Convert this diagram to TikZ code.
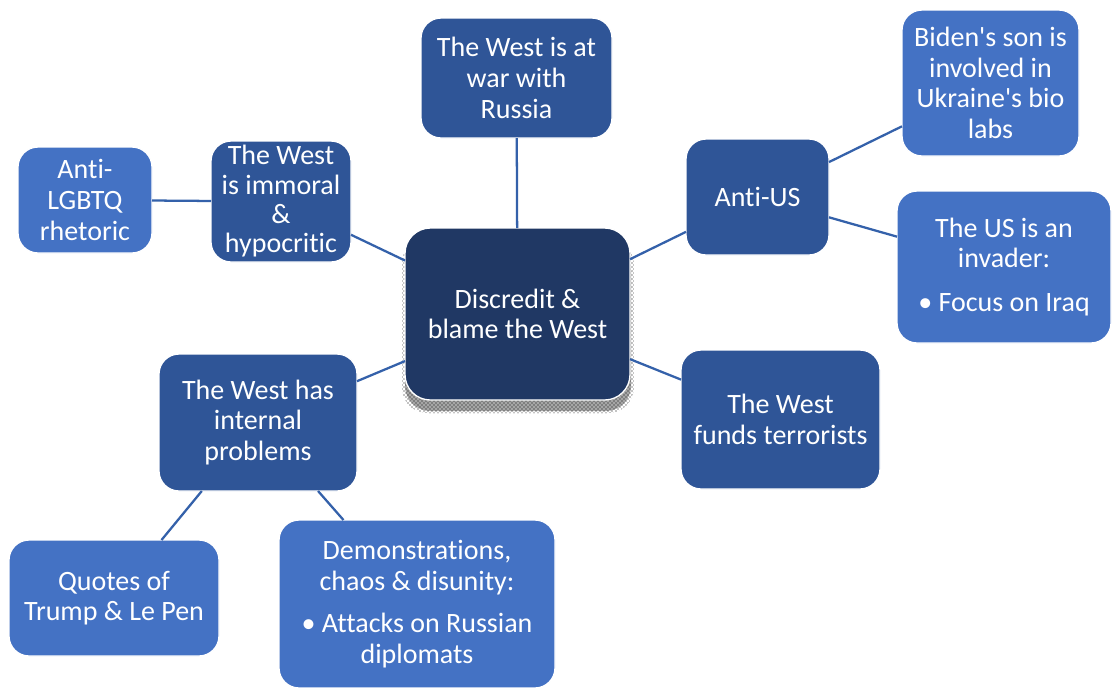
\documentclass[tikz,border=0pt]{standalone}
\usepackage{fontspec}
\setmainfont{Carlito}[Ligatures={TeXOff,NoCommon}]
\usetikzlibrary{patterns}
\definecolor{cdark}{HTML}{203864}
\definecolor{cmid}{HTML}{2F5597}
\definecolor{clight}{HTML}{4472C4}
\definecolor{cline}{HTML}{3461AA}
\begin{document}
\begin{tikzpicture}[x=0.75pt,y=-0.75pt,
  box/.style={rounded corners=15pt, draw=white, line width=1pt, text=white,
    align=center, font=\fontsize{21}{23}\selectfont, inner sep=0pt, outer sep=0pt},
  sz/.style 2 args={minimum width=#1*0.75pt, minimum height=#2*0.75pt},
  darkbox/.style={box, fill=cdark, rounded corners=19pt},
  midbox/.style={box, fill=cmid},
  lightbox/.style={box, fill=clight},
  link/.style={draw=cline, line width=1.7pt}]
\clip (0,0) rectangle (1112,687);
\fill[white] (0,0) rectangle (1112,687);
% shadow of central box
\fill[black!35, rounded corners=19pt] (405,246) rectangle (631,411);
\fill[pattern=crosshatch dots, pattern color=black, rounded corners=19pt] (402,238) rectangle (634,413);
% nodes
\node[darkbox, sz={225}{172}] (center) at (517.5,314) {Discredit \&\\blame the West};
\node[midbox, sz={191}{120}] (war) at (516.5,78) {The West is at\\war with\\Russia};
\node[midbox, sz={143}{116}] (antius) at (757.5,197) {Anti-US};
\node[lightbox, sz={177}{146}] (biden) at (990.5,83) {Biden's son is\\involved in\\Ukraine's bio\\labs};
\node[lightbox, sz={214}{152}] (invader) at (1004,267) {The US is an\\invader:\\[10pt]• Focus on Iraq};
\node[midbox, sz={199}{139}] (funds) at (780.5,419.5) {The West\\funds terrorists};
\node[midbox, sz={140}{121}, font=\fontsize{21}{22}\selectfont] (immoral) at (281,201.5) {The West\\is immoral\\\&\\hypocritic};
\node[lightbox, sz={134}{106}] (lgbtq) at (85,200) {Anti-\\LGBTQ\\rhetoric};
\node[midbox, sz={198}{137}] (internal) at (258,422.5) {The West has\\internal\\problems};
\node[lightbox, sz={210}{116}] (quotes) at (114,598) {Quotes of\\Trump \& Le Pen};
\node[lightbox, sz={276}{168}] (demo) at (417,604) {Demonstrations,\\chaos \& disunity:\\[9pt]• Attacks on Russian\\diplomats};
% connectors
\draw[link] (center) -- (war);
\draw[link] (center) -- (antius);
\draw[link] (antius) -- (biden);
\draw[link] (antius) -- (invader);
\draw[link] (center) -- (funds);
\draw[link] (center) -- (immoral);
\draw[link] (immoral) -- (lgbtq);
\draw[link] (center) -- (internal);
\draw[link] (internal) -- (quotes);
\draw[link] (internal) -- (demo);
\end{tikzpicture}
\end{document}
